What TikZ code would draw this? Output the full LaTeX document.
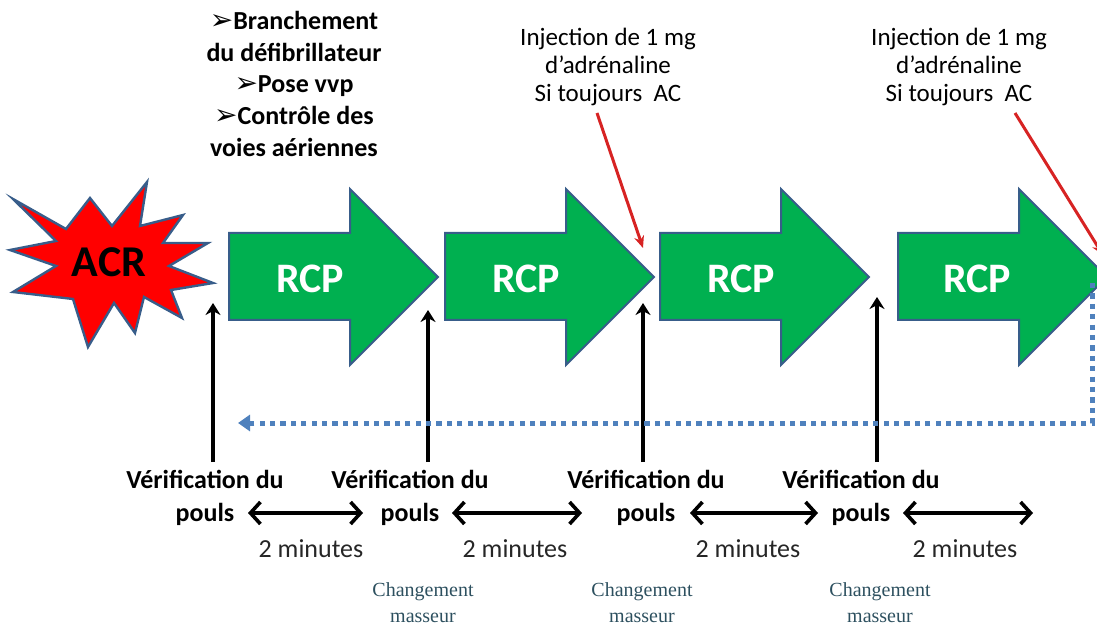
\documentclass[tikz,border=0pt]{standalone}
\usepackage{fontspec}
\setmainfont{Carlito}
\newfontfamily\symfont{DejaVu Sans}
\newfontfamily\notefont{Liberation Serif}
\usetikzlibrary{arrows.meta}
\usetikzlibrary{calc}
\definecolor{rcpgreen}{RGB}{0,176,80}
\definecolor{shapeline}{RGB}{56,93,138}
\definecolor{acrred}{RGB}{255,0,0}
\definecolor{loopblue}{RGB}{79,129,189}
\definecolor{injred}{RGB}{215,35,35}
\definecolor{notecol}{RGB}{45,80,95}
% rcp arrow sizes, in pixels
\newcommand{\bodylen}{121}
\newcommand{\tiplen}{209}
\newcommand{\bodytop}{233}
\newcommand{\bodybot}{320}
\newcommand{\headtop}{189}
\newcommand{\headbot}{365}
\newcommand{\tipy}{277}
\newcommand{\bul}{{\symfont\fontsize{14}{15}\selectfont ➢}}
\newcommand{\rcpshape}[1]{
  \filldraw[fill=rcpgreen, draw=shapeline, line width=1pt]
    (#1, \bodytop) -- (#1 + \bodylen, \bodytop) -- (#1 + \bodylen, \headtop)
    -- (#1 + \tiplen, \tipy) -- (#1 + \bodylen, \headbot)
    -- (#1 + \bodylen, \bodybot) -- (#1, \bodybot) -- cycle;
}

\begin{document}
\begin{tikzpicture}[x=0.5pt, y=-0.5pt,
    rcptext/.style={text=white, font=\fontsize{21}{25}\selectfont\bfseries},
    toptext/.style={align=center, inner sep=0pt, anchor=north,
      font=\fontsize{13}{15.8}\selectfont\bfseries},
    injtext/.style={align=center, inner sep=0pt, anchor=north,
      font=\fontsize{12.5}{14}\selectfont},
    pulsetext/.style={align=center, inner sep=0pt, anchor=north,
      font=\fontsize{13}{16.5}\selectfont\bfseries},
    mintext/.style={inner sep=0pt, anchor=base, text=black!85,
      font=\fontsize{13}{15}\selectfont},
    notetext/.style={align=center, inner sep=0pt, anchor=north, text=notecol,
      font=\notefont\fontsize{10}{13}\selectfont},
    pulsearrow/.style={line width=2pt, -{Stealth[length=6pt,width=7.5pt]}},
    spanarrow/.style={line width=1.8pt,
      {Straight Barb[length=5pt,width=11pt]}-{Straight Barb[length=5pt,width=11pt]}},
    injarrow/.style={injred, line width=1.5pt, -{Stealth[length=6pt,width=5pt]}},
    looparrow/.style={loopblue, line width=2.5pt, dash pattern=on 2.6pt off 2.6pt,
      -{Triangle[length=6pt,width=8pt]}}]
    \useasboundingbox (0,0) rectangle (1097,625);
    \clip (0,0) rectangle (1097,625);

    % acr star
    \filldraw[fill=acrred, draw=shapeline, line width=1.2pt]
      (13,199) -- (66,229) -- (90,198) -- (112,226) -- (147,182) -- (140,226)
      -- (183,215) -- (163,243) -- (208,243) -- (169,266) -- (213,283)
      -- (171,290) -- (182,318) -- (144,297) -- (135,333) -- (114,303)
      -- (88,347) -- (73,299) -- (13,292) -- (56,266) -- (10,250)
      -- (56,241) -- cycle;
    \node[font=\fontsize{22}{26}\selectfont\bfseries] (acr) at (109,262) {ACR};

    % rcp arrows
    \rcpshape{229}
    \rcpshape{445}
    \rcpshape{660}
    \rcpshape{898}
    \node[rcptext] (rcpa) at (310,279) {RCP};
    \node[rcptext] (rcpb) at (526,279) {RCP};
    \node[rcptext] (rcpc) at (741,279) {RCP};
    \node[rcptext] (rcpd) at (977,279) {RCP};

    % texts on top
    \node[toptext] (soins) at (294,11)
      {\bul Branchement\\du défibrillateur\\\bul Pose vvp\\\bul Contrôle des\\voies aériennes};
    \node[injtext] (inja) at (608,28) {Injection de 1 mg\\d’adrénaline\\Si toujours~ AC};
    \node[injtext] (injb) at (959,28) {Injection de 1 mg\\d’adrénaline\\Si toujours~ AC};
    \coordinate (injafrom) at (597,113);
    \coordinate (injato) at (643,248);
    \coordinate (injbfrom) at (1015,113);
    \coordinate (injbto) at (1103,255);
    \draw[injarrow] (injafrom) -- (injato);
    \draw[injarrow] (injbfrom) -- (injbto);

    % pulse checks
    \node[pulsetext] (pulsea) at (205,470) {Vérification du\\pouls};
    \node[pulsetext] (pulseb) at (410,470) {Vérification du\\pouls};
    \node[pulsetext] (pulsec) at (646,470) {Vérification du\\pouls};
    \node[pulsetext] (pulsed) at (861,470) {Vérification du\\pouls};
    \coordinate (upa) at (213,462);
    \coordinate (upb) at (428,462);
    \coordinate (upc) at (643,462);
    \coordinate (upd) at (877,462);
    \coordinate (topa) at (213,303);
    \coordinate (topb) at (428,310);
    \coordinate (topc) at (643,303);
    \coordinate (topd) at (877,297);
    \draw[pulsearrow] (upa) -- (topa);
    \draw[pulsearrow] (upb) -- (topb);
    \draw[pulsearrow] (upc) -- (topc);
    \draw[pulsearrow] (upd) -- (topd);

    % back loop
    \coordinate (loopstart) at (1092,283);
    \coordinate (loopcorner) at (1092,423);
    \coordinate (loopend) at (238,423);
    \draw[looparrow] (loopstart) -- (loopcorner) -- (loopend);

    % two minutes spans
    \coordinate (spanas) at (248,513);
    \coordinate (spanae) at (363,513);
    \coordinate (spanbs) at (452,513);
    \coordinate (spanbe) at (582,513);
    \coordinate (spancs) at (690,513);
    \coordinate (spance) at (818,513);
    \coordinate (spands) at (903,513);
    \coordinate (spande) at (1033,513);
    \draw[spanarrow] (spanas) -- (spanae);
    \draw[spanarrow] (spanbs) -- (spanbe);
    \draw[spanarrow] (spancs) -- (spance);
    \draw[spanarrow] (spands) -- (spande);
    \node[mintext] (mina) at (311,557) {2 minutes};
    \node[mintext] (minb) at (515,557) {2 minutes};
    \node[mintext] (minc) at (748,557) {2 minutes};
    \node[mintext] (mind) at (965,557) {2 minutes};

    % changement masseur
    \node[notetext] (masseura) at (423,582) {Changement\\masseur};
    \node[notetext] (masseurb) at (642,582) {Changement\\masseur};
    \node[notetext] (masseurc) at (880,582) {Changement\\masseur};
  \end{tikzpicture}
\end{document}
